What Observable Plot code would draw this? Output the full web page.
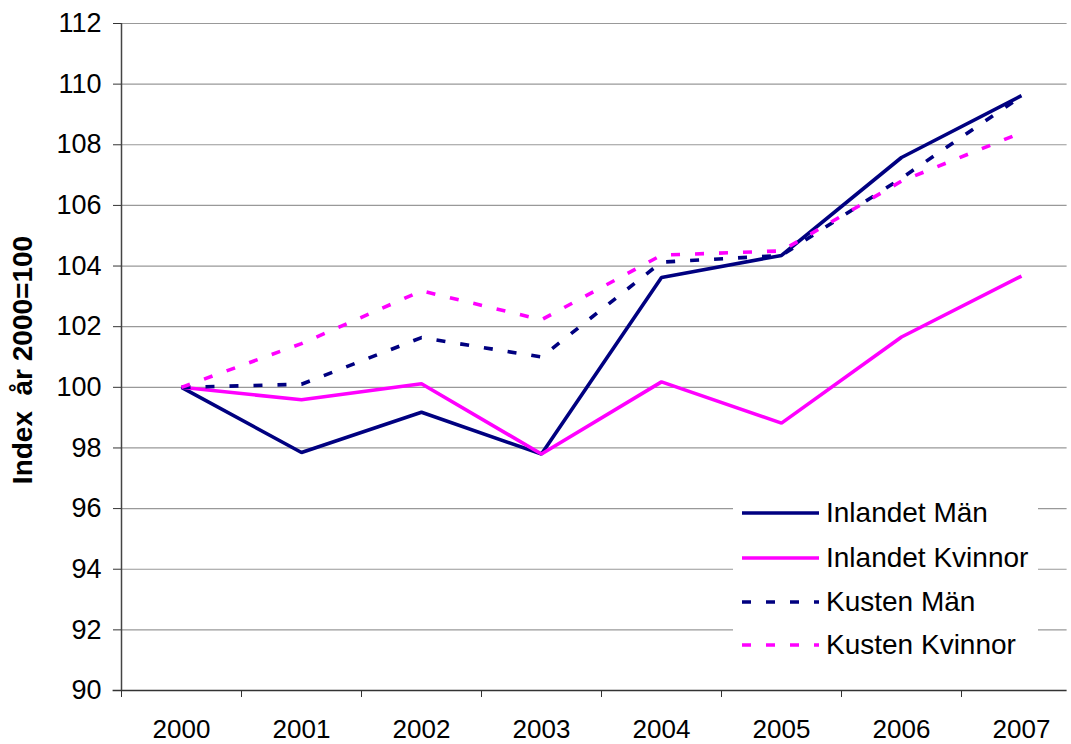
<!DOCTYPE html>
<html>
<head>
<meta charset="utf-8">
<script src="https://cdn.jsdelivr.net/npm/d3@7"></script>
<script src="https://cdn.jsdelivr.net/npm/@observablehq/plot@0.6"></script>
<style>
  html, body { margin: 0; padding: 0; background: #fff; overflow: hidden; }
  #wrap { position: relative; width: 1071px; height: 744px; font-family: "Liberation Sans", Arial, sans-serif; }
  #wrap svg text { white-space: pre; }
  .legend { position: absolute; left: 733px; top: 490px; width: 305px; height: 178px; background: #fff; }
  .row { position: absolute; left: 0; height: 30px; display: flex; align-items: center; }
  .row svg { display: block; margin-left: 9px; }
  .row span { position: absolute; left: 93px; font-size: 28px; color: #000; white-space: nowrap; line-height: 30px; }
</style>
</head>
<body>
<div id="wrap"></div>
<script>
const years = [2000, 2001, 2002, 2003, 2004, 2005, 2006, 2007];
const inlandetMan     = [100, 97.85, 99.18, 97.8, 103.62, 104.35, 107.58, 109.62];
const inlandetKvinnor = [100, 99.59, 100.12, 97.8, 100.18, 98.82, 101.66, 103.67];
const kustenMan       = [100, 100.1, 101.64, 101.0, 104.13, 104.35, 106.9, 109.6];
const kustenKvinnor   = [100, 101.44, 103.18, 102.23, 104.36, 104.5, 106.8, 108.4];
const seriesNames = ["Inlandet Män", "Inlandet Kvinnor", "Kusten Män", "Kusten Kvinnor"];
const seriesColors = ["#000080", "#FF00FF", "#000080", "#FF00FF"];
const seriesDashed = [false, false, true, true];
const yTicks = [90, 92, 94, 96, 98, 100, 102, 104, 106, 108, 110, 112];
const yLabel = "Index  år 2000=100";

const allValues = [inlandetMan, inlandetKvinnor, kustenMan, kustenKvinnor];
const data = seriesNames.map((name, i) => years.map((year, j) => ({series: name, year, value: allValues[i][j]})));
const boundaries = years.map(y => y - 0.5);
const DASH = "9,15";

const lineMarks = data.map((d, i) => Plot.line(d, {
  x: "year", y: "value", stroke: seriesColors[i], strokeWidth: 3.6,
  strokeDasharray: seriesDashed[i] ? DASH : null, strokeLinejoin: "miter", strokeLinecap: "butt"
}));

const chart = Plot.plot({
  width: 1071,
  height: 744,
  marginLeft: 121,
  marginTop: 23,
  marginBottom: 54,
  marginRight: 0,
  style: { fontFamily: "'Liberation Sans', Arial, sans-serif", color: "#000", background: "#fff", overflow: "hidden" },
  x: { type: "linear", domain: [1999.5, 2007.5], range: [121, 1081] },
  y: { domain: [90, 112] },
  marks: [
    Plot.ruleY(yTicks.filter(t => t > 90), { x1: 1999.5, x2: 2007.38, stroke: "#999", strokeWidth: 1.2 }),
    Plot.ruleY([90], { x1: 1999.43, x2: 2007.38, stroke: "#333", strokeWidth: 1.3 }),
    Plot.ruleX([1999.5], { y1: 90, y2: 112, stroke: "#444", strokeWidth: 1.5 }),
    Plot.axisY({ ticks: yTicks, tickSize: 8, tickPadding: 12, fontSize: 27, label: null, tickFormat: d => String(d), stroke: "#333" }),
    Plot.axisX({ ticks: boundaries, tickSize: 7, tickFormat: () => "", label: null, stroke: "#333" }),
    Plot.axisX({ ticks: years, tickSize: 0, tickPadding: 29, fontSize: 26, label: null, tickFormat: d => String(d) }),
    Plot.text([yLabel], { frameAnchor: "left", textAnchor: "middle", rotate: -90, dx: -98, dy: 3, fontSize: 28, fontWeight: "bold", fill: "#000" }),
    ...lineMarks
  ]
});

const wrap = document.getElementById("wrap");
wrap.appendChild(chart);

// legend overlay inside the plot area
const legend = document.createElement("div");
legend.className = "legend";
const rowTops = [8, 53, 97, 140];
seriesNames.forEach((name, i) => {
  const row = document.createElement("div");
  row.className = "row";
  row.style.top = rowTops[i] + "px";
  const dash = seriesDashed[i] ? ` stroke-dasharray="${DASH}"` : "";
  row.innerHTML = `<svg width="80" height="30"><line x1="0" y1="15" x2="77" y2="15" stroke="${seriesColors[i]}" stroke-width="3.6"${dash}/></svg><span>${name}</span>`;
  legend.appendChild(row);
});
wrap.appendChild(legend);
</script>
</body>
</html>
